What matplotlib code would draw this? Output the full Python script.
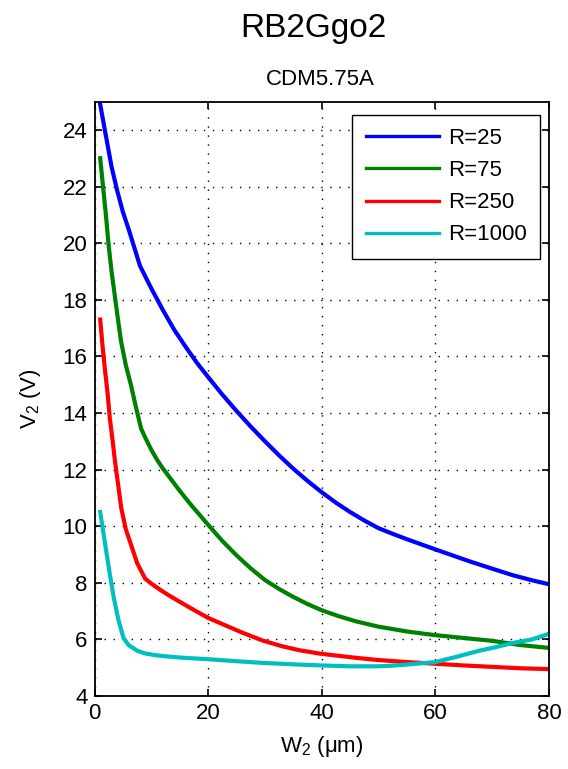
import matplotlib
matplotlib.use("Agg")
import matplotlib.pyplot as plt

plt.rcParams['font.family'] = ['Liberation Sans', 'DejaVu Sans']
plt.rcParams['mathtext.fontset'] = 'custom'
plt.rcParams['mathtext.rm'] = 'Liberation Sans'

# Output voltage V2 versus width W2 for several load resistances
w_r25 = [1, 2, 3, 4, 5, 6, 7, 8, 9, 10, 12, 14, 16, 18, 20, 22.5, 25, 27.5, 30, 32.5, 35,
         37.5, 40, 42.5, 45, 47.5, 50, 52.5, 55, 57.5, 60, 63, 66, 70, 73.6, 77, 80]
v_r25 = [24.9, 23.8, 22.7, 21.85, 21.1, 20.5, 19.85, 19.2, 18.8, 18.4, 17.65, 16.95, 16.35,
         15.78, 15.27, 14.65, 14.07, 13.52, 13.0, 12.5, 12.03, 11.6, 11.2, 10.83, 10.5,
         10.2, 9.93, 9.73, 9.54, 9.36, 9.18, 8.97, 8.76, 8.5, 8.27, 8.09, 7.95]

w_r75 = [1, 1.5, 2, 2.5, 3, 3.6, 4.2, 4.7, 5.5, 6.4, 7.3, 8.2, 9, 10, 11, 12, 13.5, 15,
         17, 20, 22.5, 25, 27.5, 30, 32.5, 35, 37.5, 40, 43, 46, 50, 55, 60, 65, 70, 75, 80]
v_r75 = [23.0, 22.0, 21.0, 19.9, 19.0, 18.1, 17.2, 16.5, 15.7, 15.0, 14.2, 13.45, 13.1,
         12.7, 12.35, 12.05, 11.65, 11.25, 10.75, 10.05, 9.48, 8.97, 8.51, 8.1, 7.78, 7.5,
         7.25, 7.03, 6.82, 6.64, 6.45, 6.28, 6.15, 6.05, 5.95, 5.8, 5.7]

w_r250 = [1, 1.4, 1.8, 2.3, 2.7, 3.2, 3.6, 4.2, 4.7, 5.5, 6.5, 7.5, 8.9, 10, 11.5, 13.3,
          15, 17.5, 20, 23, 26, 29.6, 33, 36, 39.6, 43, 46, 50, 55, 60, 65, 70, 75, 80]
v_r250 = [17.3, 16.4, 15.6, 14.7, 13.8, 13.0, 12.3, 11.4, 10.65, 9.9, 9.3, 8.7, 8.15, 7.97,
          7.76, 7.53, 7.33, 7.04, 6.76, 6.5, 6.24, 5.96, 5.76, 5.62, 5.5, 5.42, 5.35, 5.27,
          5.2, 5.14, 5.08, 5.03, 4.98, 4.95]

w_r1000 = [1, 1.5, 2, 2.7, 3.4, 4.2, 5.1, 6, 7.5, 9, 10.5, 12.1, 15, 20, 25, 29.6, 35, 40,
           45, 50, 53, 56, 60, 64, 67.7, 70.5, 73.5, 77, 80]
v_r1000 = [10.5, 9.85, 9.2, 8.3, 7.46, 6.7, 6.05, 5.8, 5.6, 5.5, 5.45, 5.41, 5.36, 5.3,
           5.23, 5.17, 5.12, 5.08, 5.05, 5.05, 5.08, 5.13, 5.2, 5.4, 5.6, 5.72, 5.87, 6.0, 6.2]

series_labels = ['R=25', 'R=75', 'R=250', 'R=1000']
series_colors = ['#0000ff', '#008000', '#ff0000', '#00bfbf']

x_ticks = [0, 20, 40, 60, 80]
y_ticks = [4, 6, 8, 10, 12, 14, 16, 18, 20, 22, 24]

fig = plt.figure(figsize=(5.68, 7.69), dpi=100)
ax = fig.add_axes([0.1664, 0.0949, 0.8001, 0.7729])

curves = [(w_r25, v_r25), (w_r75, v_r75), (w_r250, v_r250), (w_r1000, v_r1000)]
for (w, v), lab, col in zip(curves, series_labels, series_colors):
    ax.plot(w, v, color=col, lw=3.0, label=lab, solid_joinstyle='round')

ax.set_xlim(0, 80)
ax.set_ylim(4, 25)
ax.set_xticks(x_ticks)
ax.set_yticks(y_ticks)

ax.grid(True, color='black', linestyle=(0, (1, 5.5)), linewidth=1.0)
ax.tick_params(direction='in', length=5, width=1.2, labelsize=16,
               top=True, right=True, pad=5, colors='black')
for sp in ax.spines.values():
    sp.set_linewidth(1.3)

ax.set_xlabel('$\\mathregular{W_2}$ (\u03bcm)', fontsize=16, labelpad=7)
ax.set_ylabel('$\\mathregular{V_2}$ (V)', fontsize=16, labelpad=14)

leg = ax.legend(loc='upper right', bbox_to_anchor=(0.980, 0.978),
                borderaxespad=0, fancybox=False, edgecolor='black',
                framealpha=1, fontsize=16, handlelength=3.3,
                handletextpad=0.4, labelspacing=0.5, borderpad=0.6)
leg.get_frame().set_linewidth(1.0)
for h in leg.get_lines():
    h.set_linewidth(2.4)

fig.text(313 / 568, 1 - 37 / 769, 'RB2Ggo2', fontsize=24, ha='center', va='baseline')
fig.text(320 / 568, 1 - 85 / 769, 'CDM5.75A', fontsize=16, ha='center', va='baseline')

fig.savefig('out.png', dpi=100)
